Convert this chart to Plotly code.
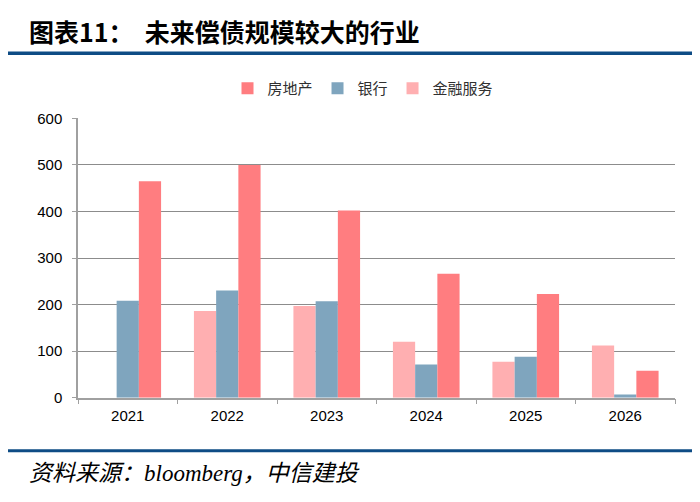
import plotly.graph_objects as go

years = ["2021", "2022", "2023", "2024", "2025", "2026"]
fin_services = [0, 186, 197, 120, 77, 112]
banks = [208, 230, 207, 71, 88, 7]
real_estate = [465, 500, 402, 266, 223, 58]
series_names = ["金融服务", "银行", "房地产"]
y_ticks = [0, 100, 200, 300, 400, 500, 600]

colors = ["#FFAFB1", "#7FA5BE", "#FF7D80"]

fig = go.Figure()
for name, vals, c in zip(series_names, [fin_services, banks, real_estate], colors):
    fig.add_trace(go.Bar(name=name, x=years, y=vals, marker=dict(color=c, line=dict(width=0))))

# page body has an 8px offset, so figure pixel = screen pixel - 8
W, H = 700, 502
L, R, T, B = 70, 667, 105, 394
fig.update_layout(
    width=W, height=H,
    margin=dict(l=0, r=0, t=0, b=0),
    paper_bgcolor="white", plot_bgcolor="white",
    barmode="group", bargap=0.33, bargroupgap=0,
    font=dict(family="Liberation Sans, Arial, Noto Sans CJK SC", size=15, color="#000000"),
    legend=dict(orientation="h", traceorder="reversed", x=355 / W, xanchor="center",
                y=1 - 74 / H, yanchor="middle",
                font=dict(family="Noto Sans CJK SC", size=15, color="#303030"),
                itemwidth=30, tracegroupgap=0),
    xaxis=dict(domain=[L / W, R / W], showline=True, linecolor="#A0A0A0", linewidth=1.5,
               ticks="outside", tickson="boundaries", ticklen=5, tickcolor="#A0A0A0",
               ticklabelstandoff=4,
               tickfont=dict(size=15, color="#000000")),
    yaxis=dict(domain=[1 - B / H, 1 - T / H], range=[0, 600], tickvals=y_ticks,
               showline=True, linecolor="#A0A0A0", linewidth=1.5,
               ticks="outside", ticklen=4, tickcolor="#A0A0A0", ticklabelstandoff=7,
               showgrid=True, gridcolor="#8C8C8C", gridwidth=1, zeroline=False,
               tickfont=dict(size=15, color="#000000")),
    showlegend=True,
)

# Title
fig.add_annotation(text="<b>图表11：  未来偿债规模较大的行业</b>", xref="paper", yref="paper",
                   x=19 / W, y=1 - 15 / H, xanchor="left", yanchor="middle", showarrow=False,
                   font=dict(family="Noto Sans CJK SC", size=25, color="#000000"))
fig.add_shape(type="line", xref="paper", yref="paper", x0=0, x1=1, y0=1 - 37.5 / H, y1=1 - 37.5 / H,
              line=dict(color="#0E4C85", width=3.5))
fig.add_shape(type="line", xref="paper", yref="paper", x0=0, x1=1, y0=1 - 449 / H, y1=1 - 449 / H,
              line=dict(color="#0E4C85", width=3))
fig.add_annotation(text="<i>资料来源：bloomberg，中信建投</i>", xref="paper", yref="paper",
                   x=19 / W, y=1 - 473 / H, xanchor="left", yanchor="middle", showarrow=False,
                   font=dict(family="Liberation Serif, Noto Sans CJK SC", size=23, color="#000000"))

fig.write_html("out.html")
